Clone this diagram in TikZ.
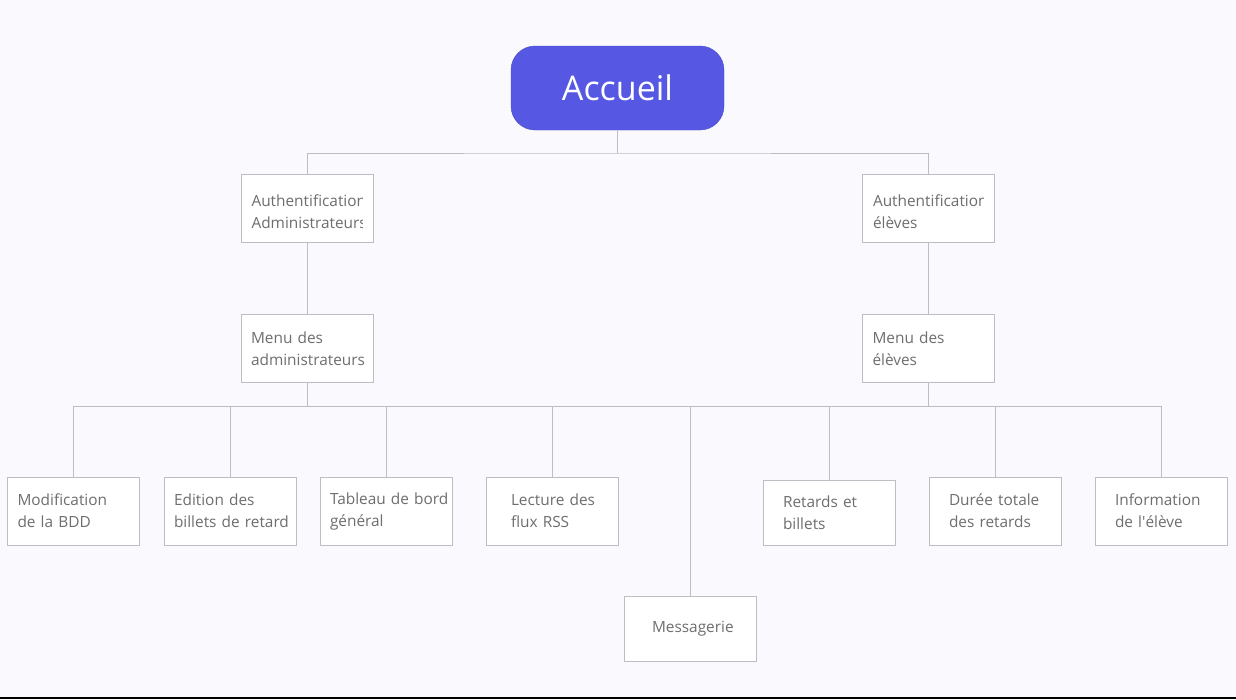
\documentclass[tikz,border=0pt]{standalone}
\usepackage{fontspec}
\setmainfont{Open Sans}
\usetikzlibrary{calc}

\definecolor{fond}{HTML}{F9F9FE}
\definecolor{violet}{HTML}{5658E4}
\definecolor{trait}{HTML}{BDBDC4}
\definecolor{gristexte}{HTML}{6E6E6E}

\tikzset{
	boite/.style={draw=trait, fill=white, line width=1pt, minimum height=68pt,
		text width=112pt, inner xsep=10pt, inner ysep=0pt, align=left,
		text=gristexte, font=\fontsize{15.4}{22}\selectfont,
		execute at begin node={\hyphenpenalty=10000\exhyphenpenalty=10000}},
	lien/.style={draw=trait, line width=1pt},
	coupe/.style={path picture={
		\clip ([xshift=10pt]path picture bounding box.south west) rectangle ([xshift=-11pt]path picture bounding box.north east);
		\node[anchor=west, inner sep=0pt, align=left, text=gristexte, font=\fontsize{15.4}{22}\selectfont]
			at ([xshift=10pt,yshift=-3pt]path picture bounding box.west) {#1};}}
}

\begin{document}
\begin{tikzpicture}[x=1pt, y=-1pt]
	
	\fill[fond] (0,0) rectangle (1236,699);
	\useasboundingbox (0,0) rectangle (1236,699);
	\fill[black] (0,696.5) rectangle (1236,699);
	
	\coordinate (bus1) at (617,153);
	\coordinate (bus2) at (690,406);
	
	\node[draw=violet!85!black, fill=violet, rounded corners=24pt, minimum width=213pt, minimum height=84pt,
		text=white, font=\fontsize{34}{40}\selectfont] (accueil) at (617.5,88) {Accueil};
	
	\node[boite, coupe={Authentification\\Administrateurs}] (authadmin) at (307,208.5) {};
	\node[boite, coupe={Authentification\\élèves}] (authel) at (928.5,208.5) {};
	
	\node[boite] (menuadmin) at (307,348.5) {Menu~des\\administrateurs};
	\node[boite] (menuel) at (928.5,348.5) {Menu~des\\élèves};
	
	\node[boite] (modif) at (73.5,511) {Modification\\de~la~BDD};
	\node[boite] (edition) at (230,511) {Edition~des\\billets~de~retard};
	\node[boite] (tableau) at (386,511) {Tableau~de~bord\\général};
	\node[boite, text width=82pt, inner xsep=25pt] (lecture) at (552,511) {Lecture~des\\flux~RSS};
	\node[boite, text width=76pt, inner xsep=28pt, minimum height=65pt] (messagerie) at (690,628.5) {Messagerie};
	\node[boite, text width=92pt, inner xsep=20pt, minimum height=65pt] (retards) at (829,512.5) {Retards~et\\billets};
	\node[boite, text width=92pt, inner xsep=20pt] (duree) at (995,511) {Durée~totale\\des~retards};
	\node[boite, text width=92pt, inner xsep=20pt] (info) at (1161,511) {Information\\de~l\textquotesingle élève};
	
	\draw[lien] (accueil.south) -- (accueil.south |- bus1);
	\draw[lien] (authadmin.north) |- (bus1) -| (authel.north);
	\draw[lien] (authadmin.south) -- (menuadmin.north);
	\draw[lien] (authel.south) -- (menuel.north);
	\draw[lien] (menuadmin.south) -- (menuadmin.south |- bus2);
	\draw[lien] (menuel.south) -- (menuel.south |- bus2);
	\draw[lien] (modif.north |- bus2) -- (info.north |- bus2);
	\foreach \n in {modif,edition,tableau,lecture,messagerie,retards,duree,info}
		\draw[lien] (\n.north) -- (\n.north |- bus2);
	
\end{tikzpicture}
\end{document}
